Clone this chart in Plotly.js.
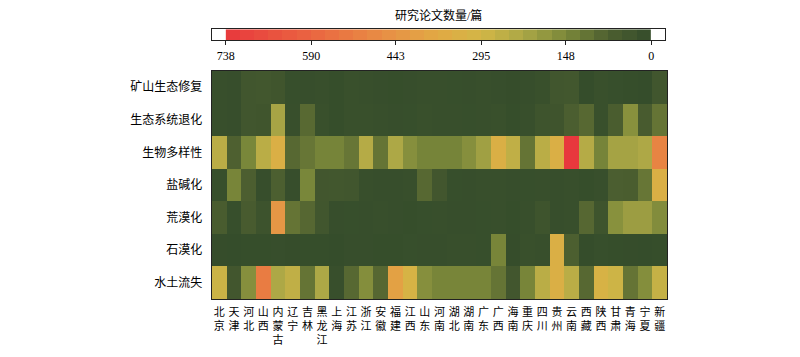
<!DOCTYPE html>
<html>
<head>
<meta charset="utf-8">
<script src="https://cdn.plot.ly/plotly-3.0.1.min.js"></script>
<style>html,body{margin:0;padding:0;background:#fff;}#chart{width:800px;height:357px;}</style>
</head>
<body>
<div id="chart"></div>
<script>
// ---- data ----
const provinces = ['北京','天津','河北','山西','内蒙古','辽宁','吉林','黑龙江','上海','江苏','浙江','安徽','福建','江西','山东','河南','湖北','湖南','广东','广西','海南','重庆','四川','贵州','云南','西藏','陕西','甘肃','青海','宁夏','新疆'];
const topics = ['矿山生态修复','生态系统退化','生物多样性','盐碱化','荒漠化','石漠化','水土流失'];

const mineRestoration   = [12,9,38,41,36,10,8,11,6,14,13,9,7,8,12,11,10,9,13,8,5,9,14,37,42,4,15,10,6,3,39];
const ecoDegradation    = [11,9,37,35,215,13,92,15,7,16,14,11,9,10,15,12,13,10,12,14,6,11,30,33,68,90,14,66,168,60,112];
const biodiversity      = [250,75,145,250,335,90,115,140,140,115,240,112,225,165,140,140,140,165,205,335,262,112,250,335,738,240,140,212,212,228,495];
const salinization      = [10,142,70,9,72,8,145,40,42,38,11,9,8,12,90,40,10,9,12,11,8,10,13,9,12,7,11,68,66,115,335];
const desertification   = [62,10,60,28,435,112,88,38,8,10,9,12,8,7,10,11,9,8,10,12,6,11,30,9,12,88,30,168,198,198,158];
const rockyDesert       = [5,4,6,7,8,5,6,7,3,9,8,7,6,10,8,9,11,12,10,142,5,14,13,335,72,4,10,7,5,3,6];
const soilErosion       = [280,40,165,520,225,262,112,225,12,90,162,88,400,315,165,142,142,142,142,112,40,142,250,335,250,90,320,285,112,162,270];

const cbTickVals = [738,590,443,295,148,0];
const cbTitle = '研究论文数量/篇';
const zMin = 0, zMax = 738;

// ---- style ----
const colorscale = [
  [0.0,'#344c2b'],[0.1,'#4d5f30'],[0.2,'#7b883a'],[0.3,'#aba746'],[0.4,'#d2b646'],
  [0.5,'#e1a944'],[0.6,'#e69545'],[0.7,'#e97d42'],[0.8,'#ea6541'],[0.9,'#e94f3f'],[1.0,'#e8383d']
];
const FONT = 'Liberation Serif, Noto Sans CJK SC, serif';

const z = [mineRestoration, ecoDegradation, biodiversity, salinization, desertification, rockyDesert, soilErosion];
const ticktext = provinces.map(p => p.split('').join('<br>'));

// colorbar drawn as a binned strip on its own axis (reversed, 738 on left)
const nBins = 30;
const binW = (zMax - zMin) / nBins;
const binX = [], binZ = [];
for (let i = 0; i < nBins; i++) { binX.push(zMin + binW * (i + 0.5)); binZ.push(zMin + binW * (i + 0.5)); }

const main = {
  type: 'heatmap', x: provinces, y: topics, z: z,
  colorscale: colorscale, zmin: zMin, zmax: zMax, showscale: false,
  xaxis: 'x', yaxis: 'y', hoverongaps: false
};
const bar = {
  type: 'heatmap', x: binX, y: [0], z: [binZ],
  colorscale: colorscale, zmin: zMin, zmax: zMax, showscale: false,
  xaxis: 'x2', yaxis: 'y2'
};

const layout = {
  width: 800, height: 357,
  margin: {l: 212, r: 133, t: 29, b: 58},
  paper_bgcolor: '#fff', plot_bgcolor: '#fff',
  font: {family: FONT, size: 12, color: '#000'},
  showlegend: false,
  xaxis: {
    domain: [0, 1], tickmode: 'array', tickvals: provinces, ticktext: ticktext,
    tickangle: 0, ticks: '', tickfont: {size: 11, family: FONT},
    showline: true, mirror: true, linecolor: '#222', linewidth: 1.3,
    showgrid: false, zeroline: false, ticklabelstandoff: 2
  },
  yaxis: {
    domain: [0, 0.8444], autorange: 'reversed', ticks: '',
    tickfont: {size: 12, family: FONT},
    showline: true, mirror: true, linecolor: '#222', linewidth: 1.3,
    showgrid: false, zeroline: false, ticklabelstandoff: 6
  },
  xaxis2: {
    domain: [0, 0.9956], anchor: 'y2', range: [762, -24],
    tickmode: 'array', tickvals: cbTickVals, ticktext: cbTickVals.map(String),
    ticks: 'outside', ticklen: 4, tickcolor: '#222', tickwidth: 1,
    tickfont: {size: 12, family: FONT},
    showline: true, mirror: true, linecolor: '#222', linewidth: 1.2,
    showgrid: false, zeroline: false
  },
  yaxis2: {
    domain: [0.959, 0.999], anchor: 'x2', range: [-0.5, 0.5],
    showticklabels: false, ticks: '', showgrid: false, zeroline: false,
    showline: true, mirror: true, linecolor: '#222', linewidth: 1.2
  },
  annotations: [{
    text: cbTitle, xref: 'paper', yref: 'paper', x: 0.4978, y: 1.0,
    yshift: 4, xanchor: 'center', yanchor: 'bottom', showarrow: false,
    font: {size: 12, family: FONT, color: '#000'}
  }]
};

Plotly.newPlot('chart', [main, bar], layout, {displayModeBar: false, staticPlot: true});
</script>
</body>
</html>
